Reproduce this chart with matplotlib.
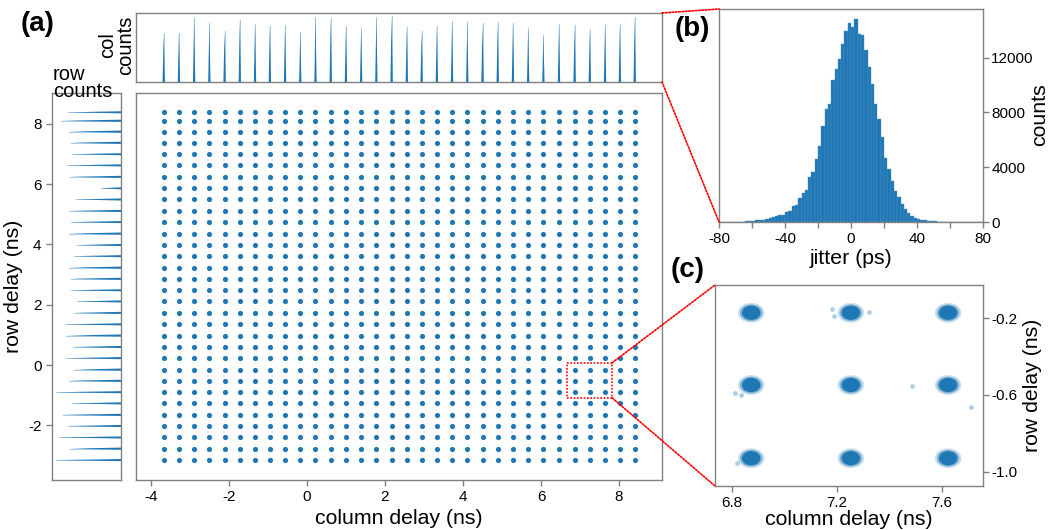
import matplotlib
matplotlib.use("Agg")
import matplotlib.pyplot as plt
import numpy as np
from matplotlib.patches import Rectangle, Ellipse, ConnectionPatch

plt.rcParams['font.family'] = ['Liberation Sans', 'DejaVu Sans']
plt.rcParams['axes.unicode_minus'] = False

# ---------------- data ----------------
col_delay = [-3.67, -3.28, -2.89, -2.50, -2.11, -1.72, -1.33, -0.95, -0.56, -0.17,
             0.22, 0.61, 1.00, 1.39, 1.78, 2.17, 2.56, 2.94, 3.33, 3.72,
             4.11, 4.50, 4.89, 5.28, 5.67, 6.06, 6.46, 6.86, 7.25, 7.64,
             8.02, 8.40]
row_delay = [8.38, 8.10, 7.74, 7.37, 6.99, 6.62, 6.24, 5.86, 5.49, 5.11,
             4.74, 4.36, 3.98, 3.61, 3.23, 2.86, 2.48, 2.11, 1.73, 1.35,
             0.98, 0.60, 0.23, -0.15, -0.52, -0.90, -1.27, -1.65, -2.02, -2.40,
             -2.77, -3.15]
col_counts = [145, 147, 193, 176, 153, 183, 171, 169, 169, 148, 192, 190, 167,
              160, 193, 197, 164, 151, 165, 182, 179, 176, 178, 176, 161, 140,
              171, 169, 157, 171, 171, 193]
row_counts = [159, 179, 157, 149, 147, 162, 152, 59, 134, 155, 149, 157, 131,
              140, 157, 150, 149, 131, 140, 169, 164, 144, 164, 140, 157, 194,
              147, 175, 159, 187, 152, 196]

jitter_bin_left = [-80, -78, -76, -74, -72, -70, -68, -66, -64, -62,
                   -60, -58, -56, -54, -52, -50, -48, -46, -44, -42,
                   -40, -38, -36, -34, -32, -30, -28, -26, -24, -22,
                   -20, -18, -16, -14, -12, -10, -8, -6, -4, -2,
                   0, 2, 4, 6, 8, 10, 12, 14, 16, 18,
                   20, 22, 24, 26, 28, 30, 32, 34, 36, 38,
                   40, 42, 44, 46, 48, 50, 52, 54, 56, 58,
                   60, 62, 64, 66, 68, 70, 72, 74, 76, 78]
jitter_counts = [0, 0, 0, 0, 5, 10, 15, 30, 50, 80,
                 100, 120, 150, 175, 220, 290, 340, 440, 510, 490,
                 700, 780, 1190, 1270, 1730, 2120, 2300, 3250, 3620, 4600,
                 5570, 7000, 8250, 8600, 10350, 11150, 11900, 13000, 13950, 14500,
                 14250, 14850, 13700, 13650, 12550, 11300, 10100, 8600, 7500, 6200,
                 4700, 3870, 3020, 2290, 1850, 1310, 950, 660, 440, 320,
                 220, 170, 120, 95, 70, 50, 25, 15, 8, 4,
                 2, 0, 0, 0, 0, 0, 0, 0, 0, 0]

zoom_cols = [6.874, 7.254, 7.625]
zoom_rows = [-0.171, -0.548, -0.930]
outlier_x = [7.183, 7.191, 7.323, 7.489, 7.712, 6.813, 6.835, 6.819]
outlier_y = [-0.151, -0.186, -0.166, -0.551, -0.664, -0.591, -0.600, -0.953]

# ---------------- style ----------------
BLUE = '#1f77b4'
GREY = '#808080'
TICK_FS = 11
LAB_FS = 15.3
W, H = 1049, 530


def style(ax):
    for s in ax.spines.values():
        s.set_color(GREY)
        s.set_linewidth(1.0)
    ax.tick_params(colors=GREY, labelcolor='black', labelsize=TICK_FS,
                   length=4, width=1.0)


def box(l, t, r, b):
    return [l / W, 1 - b / H, (r - l) / W, (b - t) / H]


fig = plt.figure(figsize=(10.49, 5.30), dpi=100)

ax_main = fig.add_axes(box(136, 93, 662, 480))
ax_top = fig.add_axes(box(136, 13, 662, 82), sharex=ax_main)
ax_left = fig.add_axes(box(52, 93, 121, 480), sharey=ax_main)
ax_b = fig.add_axes(box(719, 9, 983, 222))
ax_c = fig.add_axes(box(715, 285, 983, 486))

# main scatter
X, Y = np.meshgrid(col_delay, row_delay)
ax_main.scatter(X.ravel(), Y.ravel(), s=14, color=BLUE, linewidths=0)
ax_main.set_xlim(-4.38, 9.1)
ax_main.set_ylim(-3.81, 9.02)
ax_main.set_xticks([-4, -2, 0, 2, 4, 6, 8])
ax_main.set_xlabel('column delay (ns)', fontsize=LAB_FS, labelpad=3)
style(ax_main)
ax_main.tick_params(axis='y', left=False, labelleft=False)

# dotted zoom box
ax_main.add_patch(Rectangle((6.67, -1.085), 1.15, 1.16, fill=False,
                            edgecolor='red', linestyle=(0, (1, 1)), lw=1.2, zorder=5))

# top marginal histogram (column counts)
hw = 0.03
for x, h in zip(col_delay, col_counts):
    ax_top.fill([x - hw, x, x + hw], [0, h, 0], color=BLUE, lw=0)
    ax_top.plot([x, x], [0, h], color=BLUE, lw=0.6, alpha=0.45)
ax_top.set_ylim(0, 205)
style(ax_top)
ax_top.tick_params(left=False, bottom=False, labelleft=False, labelbottom=False)

# left marginal histogram (row counts)
vw = 0.035
for y, L in zip(row_delay, row_counts):
    ax_left.fill([0, L, 0], [y - vw, y, y + vw], color=BLUE, lw=0)
    ax_left.plot([0, L], [y, y], color=BLUE, lw=0.6, alpha=0.45)
ax_left.set_xlim(207, 0)
ax_left.set_yticks([-2, 0, 2, 4, 6, 8])
ax_left.set_ylabel('row delay (ns)', fontsize=LAB_FS)
style(ax_left)
ax_left.tick_params(axis='x', bottom=False, labelbottom=False)

# panel (b) jitter histogram
ax_b.bar(jitter_bin_left, jitter_counts, width=2, align='edge', color=BLUE,
         edgecolor='#4f93c8', linewidth=0.3)
ax_b.set_xlim(-80, 80)
ax_b.set_ylim(0, 15550)
ax_b.set_xticks([-80, -60, -40, -20, 0, 20, 40, 60, 80])
ax_b.set_xticklabels(['-80', '', '-40', '', '0', '', '40', '', '80'])
ax_b.set_yticks([0, 4000, 8000, 12000])
ax_b.yaxis.tick_right()
ax_b.set_xlabel('jitter (ps)', fontsize=LAB_FS, labelpad=2)
style(ax_b)
ax_b.tick_params(axis='y', pad=2)
fig.text(1040 / W, 1 - 115 / H, 'counts', fontsize=LAB_FS, rotation=90,
         ha='center', va='center')

# panel (c) zoomed clusters
for cy in zoom_rows:
    for cx in zoom_cols:
        ax_c.add_patch(Ellipse((cx, cy), 0.102, 0.104, color=BLUE, alpha=0.22, lw=0))
        ax_c.add_patch(Ellipse((cx, cy), 0.086, 0.088, color=BLUE, alpha=0.45, lw=0))
        ax_c.add_patch(Ellipse((cx, cy), 0.07, 0.074, color=BLUE, alpha=1.0, lw=0))
ax_c.scatter(outlier_x, outlier_y, s=12, color=BLUE, alpha=0.35, linewidths=0)
ax_c.set_xlim(6.736, 7.758)
ax_c.set_ylim(-1.075, -0.026)
ax_c.set_xticks([6.8, 7.2, 7.6])
ax_c.set_xticklabels(['6.8', '7.2', '7.6'])
ax_c.set_yticks([-0.2, -0.6, -1.0])
ax_c.set_yticklabels(['-0.2', '-0.6', '-1.0'])
ax_c.yaxis.tick_right()
ax_c.yaxis.set_label_position('right')
ax_c.set_xlabel('column delay (ns)', fontsize=LAB_FS, labelpad=0)
ax_c.set_ylabel('row delay (ns)', fontsize=LAB_FS, labelpad=4)
style(ax_c)
ax_c.tick_params(axis='y', pad=2)

# red dotted connectors
dot = dict(color='red', linestyle=(0, (1, 1)), lw=1.2)
for xa, xb in [((1, 1), (0, 1)), ((1, 0), (0, 0))]:
    fig.add_artist(ConnectionPatch(xa, xb, coordsA='axes fraction', coordsB='axes fraction',
                                   axesA=ax_top, axesB=ax_b, **dot))
fig.add_artist(ConnectionPatch((7.82, 0.075), (0, 1), coordsA='data', coordsB='axes fraction',
                               axesA=ax_main, axesB=ax_c, **dot))
fig.add_artist(ConnectionPatch((7.82, -1.085), (0, 0), coordsA='data', coordsB='axes fraction',
                               axesA=ax_main, axesB=ax_c, **dot))

# texts
fig.text(21 / W, 1 - 11 / H, '(a)', fontsize=20, fontweight='bold', va='top', ha='left')
fig.text(675 / W, 1 - 16 / H, '(b)', fontsize=20, fontweight='bold', va='top', ha='left')
fig.text(671 / W, 1 - 257 / H, '(c)', fontsize=20, fontweight='bold', va='top', ha='left')
fig.text(117 / W, 1 - 45 / H, 'col\ncounts', fontsize=14.5, rotation=90,
         ha='center', va='center', linespacing=0.95)
fig.text(53 / W, 1 - 83 / H, 'row\ncounts', fontsize=14.5, ha='left', va='center',
         linespacing=0.85)

fig.savefig('out.png', dpi=100)
